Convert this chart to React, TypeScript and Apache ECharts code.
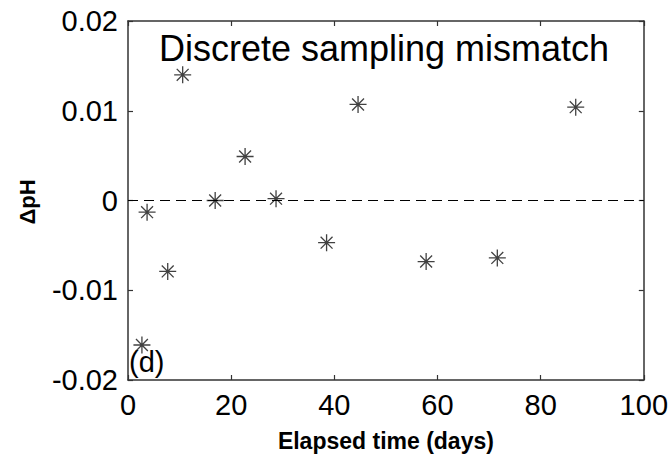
import React, { useEffect, useRef } from "react";
import * as echarts from "echarts";

const elapsedDays = [2.7, 3.7, 7.7, 10.6, 16.9, 22.7, 28.7, 38.5, 44.6, 57.8, 71.6, 86.8];
const deltaPH = [-0.0161, -0.0013, -0.0079, 0.014, 0.0, 0.0049, 0.0002, -0.0047, 0.0107, -0.0068, -0.0064, 0.0104];
const zeroLine = [
  [0, 0],
  [100, 0],
];
const xRange = [0, 100];
const yRange = [-0.02, 0.02];

const FONT = "Liberation Sans, Arial, sans-serif";
const AXIS_COLOR = "#333";

export default function App() {
  const ref = useRef<HTMLDivElement>(null);
  useEffect(() => {
    if (!ref.current) return;
    const chart = echarts.init(ref.current, null, { renderer: "svg" });
    const tickStyle = { show: true, inside: true, length: 5, lineStyle: { color: AXIS_COLOR, width: 1.2 } };
    const lineStyle = { show: true, onZero: false, lineStyle: { color: AXIS_COLOR, width: 1.5 } };
    chart.setOption({
      animation: false,
      backgroundColor: "#fff",
      grid: { left: 128, right: 27, top: 21, bottom: 77, containLabel: false },
      xAxis: [
        {
          type: "value",
          position: "bottom",
          min: xRange[0],
          max: xRange[1],
          interval: 20,
          axisLine: lineStyle,
          axisTick: tickStyle,
          splitLine: { show: false },
          axisLabel: { color: "#000", fontSize: 29, fontFamily: FONT, margin: 10 },
          name: "Elapsed time (days)",
          nameLocation: "middle",
          nameGap: 49,
          nameTextStyle: { color: "#000", fontSize: 23, fontWeight: "bold", fontFamily: FONT },
        },
        {
          type: "value",
          position: "top",
          min: xRange[0],
          max: xRange[1],
          interval: 20,
          axisLine: lineStyle,
          axisTick: tickStyle,
          splitLine: { show: false },
          axisLabel: { show: false },
        },
      ],
      yAxis: [
        {
          type: "value",
          position: "left",
          min: yRange[0],
          max: yRange[1],
          interval: 0.01,
          axisLine: lineStyle,
          axisTick: tickStyle,
          splitLine: { show: false },
          axisLabel: { color: "#000", fontSize: 29, fontFamily: FONT, margin: 10 },
        },
        {
          type: "value",
          position: "right",
          min: yRange[0],
          max: yRange[1],
          interval: 0.01,
          axisLine: lineStyle,
          axisTick: tickStyle,
          splitLine: { show: false },
          axisLabel: { show: false },
        },
      ],
      series: [
        {
          type: "line",
          data: zeroLine,
          symbol: "none",
          lineStyle: { color: "#000", width: 1.2, type: [10, 6] },
          silent: true,
        },
        {
          type: "scatter",
          data: elapsedDays.map((x, i) => [x, deltaPH[i]]),
          symbol: "path://M10,0L10,20M0,10L20,10M3,3L17,17M3,17L17,3",
          symbolSize: 17,
          itemStyle: { color: "transparent", borderColor: "#111", borderWidth: 1.3 },
        },
      ],
      graphic: [
        {
          type: "text",
          x: 159,
          y: 48,
          style: {
            text: "Discrete sampling mismatch",
            fontSize: 36,
            fontFamily: FONT,
            fill: "#000",
            align: "left",
            verticalAlign: "middle",
          },
        },
        {
          type: "text",
          x: 129,
          y: 362,
          style: {
            text: "(d)",
            fontSize: 29,
            fontFamily: FONT,
            fill: "#000",
            align: "left",
            verticalAlign: "middle",
          },
        },
        {
          type: "text",
          x: 27,
          y: 202,
          rotation: Math.PI / 2,
          style: {
            text: "ΔpH",
            fontSize: 22,
            fontWeight: "bold",
            fontFamily: FONT,
            fill: "#000",
            align: "center",
            verticalAlign: "middle",
          },
        },
      ],
    });
    return () => chart.dispose();
  }, []);
  return (
    <div
      ref={ref}
      style={{ position: "fixed", left: 0, top: 0, width: 671, height: 457, background: "#fff" }}
    />
  );
}
